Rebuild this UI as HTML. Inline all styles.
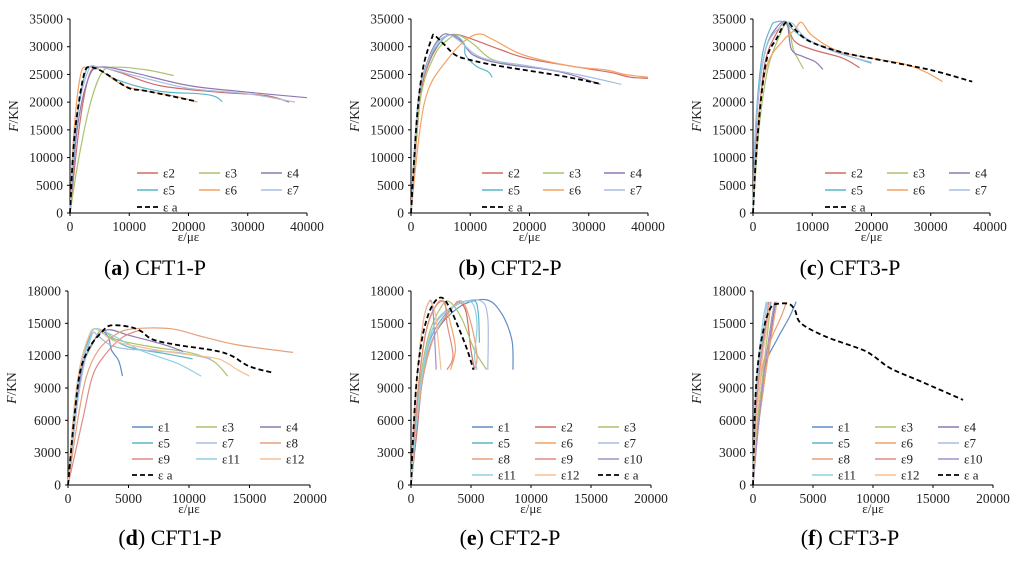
<!DOCTYPE html>
<html><head><meta charset="utf-8"><style>
html,body{margin:0;padding:0;background:#fff;}
svg, svg text{font-family:"Liberation Serif","Times New Roman",serif;}
</style></head>
<body>
<svg id="fig" width="1024" height="559" viewBox="0 0 1024 559" xmlns="http://www.w3.org/2000/svg" font-family="Liberation Serif, serif">
<rect width="1024" height="559" fill="#fff"/>
</svg>
<script>
// ---- data: panel (a) CFT1-P top ----
const aNames = ["ε2","ε3","ε4","ε5","ε6","ε7","ε a"];
const aSeries = [
 [[0,0],[1500,15000],[3000,24000],[4500,26300],[8000,25500],[15000,23000],[25000,21800],[33000,21200],[37000,20000]],
 [[0,0],[1500,10000],[3500,20000],[5500,25500],[8000,26300],[13000,25800],[17500,24800]],
 [[0,0],[1200,15000],[3000,24000],[5000,26300],[10000,25500],[20000,23000],[30000,21800],[40000,20800]],
 [[0,0],[1000,15000],[2500,25000],[4000,26300],[8000,24000],[15000,22000],[22000,21500],[24500,21000],[25700,20100]],
 [[0,0],[700,15000],[1800,25000],[3000,26300],[5000,25800],[9000,23000],[13000,22000],[18000,21000],[21500,20000]],
 [[0,0],[1000,16000],[3000,25500],[5000,26300],[12000,24500],[20000,22500],[30000,21500],[38000,20000]],
 [[0,0],[600,12000],[1500,20000],[2500,25500],[3400,26300],[5000,25800],[7000,24500],[10000,22500],[13000,22000],[21000,20200]]
];
// ---- panel (b) CFT2-P top ----
const bNames = ["ε2","ε3","ε4","ε5","ε6","ε7","ε a"];
const bSeries = [
 [[0,0],[1500,20000],[3000,27000],[5500,31500],[7500,32200],[10000,31500],[15000,29500],[20000,27800],[30000,26000],[34000,25300],[37000,24500],[40000,24300]],
 [[0,0],[1500,20000],[4000,28500],[6500,31500],[8000,32100],[10500,30500],[13500,27800],[18000,26500]],
 [[0,0],[1200,20000],[3000,28000],[5000,31800],[6500,32200],[8500,31000],[10500,28500],[15000,27000],[25000,25500],[32000,23200]],
 [[0,0],[1200,20000],[3000,27500],[5500,31500],[7500,32000],[9000,30500],[9200,28500],[11000,26500],[13000,25500],[13700,24500]],
 [[0,0],[1500,15000],[3000,22500],[6000,27500],[9000,31000],[11500,32300],[14000,31200],[19000,28500],[27000,26500],[33000,25800],[36000,25000],[40000,24500]],
 [[0,0],[1200,20000],[3500,29000],[6000,32000],[8000,31200],[12000,28000],[20000,26500],[28000,25000],[35500,23200]],
 [[0,0],[1000,17000],[2000,26000],[3500,31500],[4000,32000],[5500,30500],[7500,28500],[10000,27600],[15000,26500],[25000,24800],[32000,23300]]
];
// ---- panel (c) CFT3-P top ----
const cNames = ["ε2","ε3","ε4","ε5","ε6","ε7","ε a"];
const cSeries = [
 [[0,0],[800,15000],[2000,27000],[4000,32500],[5500,34300],[7000,31000],[10000,29500],[15000,28000],[18000,26200]],
 [[0,0],[1000,15000],[2500,26000],[4500,32000],[5800,34200],[6800,29500],[7500,28000],[8500,26000]],
 [[0,0],[700,18000],[2000,29000],[4000,33500],[5700,34300],[6500,29500],[8500,28200],[10500,27300],[11800,25900]],
 [[0,0],[400,15000],[1500,28000],[3000,33500],[4000,34500],[5500,34300],[8000,32000],[13000,29500],[20000,27000]],
 [[0,0],[1000,18000],[2500,27000],[5000,31000],[7000,33000],[8200,34400],[10000,32000],[15000,29000],[25000,27000],[29000,25500],[32000,23700]],
 [[0,0],[500,16000],[2000,29000],[4500,33500],[6500,34300],[9000,31500],[14000,29000],[20000,27200]],
 [[0,0],[500,10000],[1500,22000],[2500,28500],[4000,31500],[5600,34400],[7000,33200],[9500,31000],[15000,29000],[22000,27500],[30000,25800],[37000,23700]]
];
// ---- panel (d) CFT1-P bottom ----
const dNames = ["ε1","ε3","ε4","ε5","ε7","ε8","ε9","ε11","ε12","ε a"];
const dSeries = [
 [[0,0],[500,6000],[1000,11000],[1800,14000],[2300,14500],[3000,14200],[3400,13500],[3600,12500],[4200,11500],[4500,10100]],
 [[0,0],[700,7000],[1200,11000],[2000,13000],[2800,14400],[4000,13500],[7000,12800],[10000,12300],[12000,11500],[13200,10100]],
 [[0,0],[700,7000],[1200,11000],[2200,13500],[3300,14400],[5000,13900],[8000,13000],[9500,12400]],
 [[0,0],[500,7000],[1000,11000],[1700,13500],[2200,14500],[3000,14000],[5000,12800],[8000,12200],[10300,11700]],
 [[0,0],[700,7000],[1300,11000],[2000,14000],[2500,13800],[3500,13000],[5000,12600],[9000,12300],[11800,11700]],
 [[0,0],[800,6000],[1500,10000],[2500,12500],[4000,14000],[5500,14500],[8500,14500],[11000,13800],[14000,13000],[18600,12300]],
 [[0,0],[1200,6000],[2000,10000],[3000,12000],[4500,13700],[6000,14400]],
 [[0,0],[600,7000],[1100,11000],[1800,13500],[2200,14500],[3500,14000],[6000,12500],[9000,11300],[11000,10100]],
 [[0,0],[500,7000],[1000,11000],[1800,14000],[2500,14400],[4000,13300],[8000,12400],[12000,11800],[13000,11400],[14000,10700],[15000,10100]],
 [[0,0],[500,6000],[1000,10500],[1800,12800],[2800,14200],[3500,14800],[5000,14700],[6000,14300],[7000,13500],[9000,13000],[12000,12500],[13500,12000],[15000,11000],[17000,10400]]
];
// ---- panel (e) CFT2-P bottom ----
const eNames = ["ε1","ε2","ε3","ε5","ε6","ε7","ε8","ε9","ε10","ε11","ε12","ε a"];
const eSeries = [
 [[0,0],[400,5000],[1000,10000],[2000,14000],[4000,16500],[6200,17200],[7500,16000],[8400,13500],[8500,10700]],
 [[0,0],[500,5000],[1000,10000],[2000,14000],[3500,16500],[4000,17000],[4600,16000],[5000,12500],[5300,10700]],
 [[0,0],[300,5000],[800,10000],[1500,14000],[2500,16500],[3200,17000],[4200,15500],[5300,12500],[6300,10700]],
 [[0,0],[400,5000],[900,10000],[1800,14000],[3500,16500],[5200,17100],[5600,16000],[5700,13200]],
 [[0,0],[300,5000],[700,10000],[1200,14000],[2000,16500],[2700,17000],[3400,14500],[3700,12500],[3300,10700]],
 [[0,0],[400,5000],[1000,10000],[2000,15000],[4000,16800],[5800,17100],[6400,15500],[6400,10700]],
 [[0,0],[400,5000],[1000,10000],[2000,14000],[3500,16500],[4300,17000],[5000,15000],[5500,12000],[5300,10700]],
 [[0,0],[300,5000],[700,10000],[1300,14500],[2000,16500],[2800,17000],[3000,15000],[3500,12000],[3000,10700]],
 [[0,0],[200,5000],[500,10000],[1000,15000],[1500,17000],[1800,16500],[2000,13000],[2100,10700]],
 [[0,0],[400,5000],[900,10000],[1800,14500],[3500,16500],[5000,17000],[5500,15000],[5300,12000],[5500,10700]],
 [[0,0],[200,5000],[500,10000],[1000,15000],[1500,17000],[2000,16000],[2300,13000],[2500,10700]],
 [[0,0],[200,5000],[500,10000],[1000,14000],[1700,16500],[2500,17400],[3200,16500],[4000,14500],[4700,12500],[5200,10700]]
];
// ---- panel (f) CFT3-P bottom ----
const fNames = ["ε1","ε3","ε4","ε5","ε6","ε7","ε8","ε9","ε10","ε11","ε12","ε a"];
const fSeries = [
 [[0,0],[400,6000],[1000,11000],[2000,13500],[3000,15500],[3600,17000]],
 [[0,0],[300,5000],[800,10000],[1300,15000],[1500,17000]],
 [[0,0],[400,5000],[1000,10000],[1600,15000],[1900,17000]],
 [[0,0],[200,6000],[500,11000],[1000,14500],[1500,17000]],
 [[0,0],[400,5000],[1000,10000],[1700,15000],[2000,17000]],
 [[0,0],[200,6000],[500,11000],[1000,15500],[1200,17000]],
 [[0,0],[300,6000],[800,11000],[1500,13500],[2300,15500],[2800,17000]],
 [[0,0],[200,6000],[600,11000],[1100,15000],[1300,17000]],
 [[0,0],[500,6000],[1000,11000],[1500,15000],[1800,17000]],
 [[0,0],[100,6000],[400,11000],[800,15000],[1100,17000]],
 [[0,0],[300,6000],[700,11000],[1200,15000],[1400,17000]],
 [[0,0],[200,8000],[500,12000],[1000,15000],[1500,16500],[2000,16800],[3000,16800],[3500,16200],[4000,15000],[6000,13800],[9000,12600],[10000,12000],[11500,10800],[14000,9600],[17500,7900]]
];
const topYTicks = [0,5000,10000,15000,20000,25000,30000,35000];
const topXTicks = [0,10000,20000,30000,40000];
const botYTicks = [0,3000,6000,9000,12000,15000,18000];
const botXTicks = [0,5000,10000,15000,20000];

// ---- styles (not data) ----
const colorMap = {"ε1":"#5f8dc6","ε2":"#cf6d69","ε3":"#a9c46f","ε4":"#9079b3","ε5":"#5cb6cb","ε6":"#f5a261","ε7":"#a8bde0","ε8":"#e6a07a","ε9":"#e08a86","ε10":"#a58fc6","ε11":"#8fd0e2","ε12":"#f7bf92","ε a":"#000"};
const panels = [
 {id:"a",names:aNames,series:aSeries,x0:70,x1:307,y0:213,y1:19,xmax:40000,ymax:35000,xt:topXTicks,yt:topYTicks,cap:["a"," CFT1-P"],cx:155,cy:275,lx:137,cw:62,ly:173,rh:17},
 {id:"b",names:bNames,series:bSeries,x0:411,x1:648,y0:213,y1:19,xmax:40000,ymax:35000,xt:topXTicks,yt:topYTicks,cap:["b"," CFT2-P"],cx:510,cy:275,lx:482,cw:61,ly:173,rh:17},
 {id:"c",names:cNames,series:cSeries,x0:753,x1:990,y0:213,y1:19,xmax:40000,ymax:35000,xt:topXTicks,yt:topYTicks,cap:["c"," CFT3-P"],cx:850,cy:275,lx:825,cw:62,ly:173,rh:17},
 {id:"d",names:dNames,series:dSeries,x0:68,x1:310,y0:485,y1:291,xmax:20000,ymax:18000,xt:botXTicks,yt:botYTicks,cap:["d"," CFT1-P"],cx:170,cy:545,lx:132,cw:64,ly:427,rh:16},
 {id:"e",names:eNames,series:eSeries,x0:411,x1:651,y0:485,y1:291,xmax:20000,ymax:18000,xt:botXTicks,yt:botYTicks,cap:["e"," CFT2-P"],cx:510,cy:545,lx:472,cw:63,ly:427,rh:16},
 {id:"f",names:fNames,series:fSeries,x0:753,x1:993,y0:485,y1:291,xmax:20000,ymax:18000,xt:botXTicks,yt:botYTicks,cap:["f"," CFT3-P"],cx:850,cy:545,lx:812,cw:63,ly:427,rh:16}
];
const NS = "http://www.w3.org/2000/svg";
const svg = document.getElementById("fig");
const FONT = '"Liberation Serif", serif';
function mk(tag, attrs, parent, text){
  const el = document.createElementNS(NS, tag);
  for (const k in attrs) el.setAttribute(k, attrs[k]);
  if (tag === "text") el.style.fontFamily = FONT;
  if (text !== undefined) el.textContent = text;
  parent.appendChild(el);
  return el;
}
function smooth(P){
  let d = "M"+P[0][0].toFixed(1)+","+P[0][1].toFixed(1);
  for (let i=0;i<P.length-1;i++){
    const p0=P[Math.max(0,i-1)], p1=P[i], p2=P[i+1], p3=P[Math.min(P.length-1,i+2)];
    const c1=[p1[0]+(p2[0]-p0[0])/6, p1[1]+(p2[1]-p0[1])/6];
    const c2=[p2[0]-(p3[0]-p1[0])/6, p2[1]-(p3[1]-p1[1])/6];
    d += " C"+c1[0].toFixed(1)+","+c1[1].toFixed(1)+" "+c2[0].toFixed(1)+","+c2[1].toFixed(1)+" "+p2[0].toFixed(1)+","+p2[1].toFixed(1);
  }
  return d;
}
panels.forEach(p=>{
  const g = mk("g",{},svg);
  
  
  const sx = v => p.x0 + v/p.xmax*(p.x1-p.x0);
  const sy = v => p.y0 - v/p.ymax*(p.y0-p.y1);
  const ya = mk("line",{x1:p.x0,y1:p.y0,x2:p.x0,y2:p.y1,stroke:"#000","stroke-width":1},g);
  
  
  const xa = mk("line",{x1:p.x0,y1:p.y0,x2:p.x1,y2:p.y0,stroke:"#000","stroke-width":1},g);
  
  
  p.yt.forEach(v=>{
    mk("line",{x1:p.x0-3,y1:sy(v),x2:p.x0,y2:sy(v),stroke:"#000"},g);
    const t = mk("text",{x:p.x0-7,y:sy(v)+4.5,"text-anchor":"end","font-size":13.5,fill:"#222"},g,String(v));
    
    
  });
  p.xt.forEach(v=>{
    mk("line",{x1:sx(v),y1:p.y0,x2:sx(v),y2:p.y0+3,stroke:"#000"},g);
    const t = mk("text",{x:sx(v),y:p.y0+18,"text-anchor":"middle","font-size":13.5,fill:"#222"},g,String(v));
    
    
  });
  const xt = mk("text",{x:(p.x0+p.x1)/2,y:p.y0+28,"text-anchor":"middle","font-size":13,fill:"#222"},g,"ε/με");
  
  
  const ytx = p.x0-52, yty = (p.y0+p.y1)/2;
  const yt = mk("text",{x:ytx,y:yty,"text-anchor":"middle","font-size":13.5,fill:"#222",transform:`rotate(-90 ${ytx} ${yty})`},g);
  
  
  mk("tspan",{"font-style":"italic"},yt,"F");
  mk("tspan",{},yt,"/KN");
  p.series.forEach((pts,i)=>{
    const name = p.names[i];
    const dashed = name === "ε a";
    const P = pts.map(q=>[sx(q[0]), sy(q[1])]);
    const path = mk("path",{d:smooth(P),fill:"none",stroke:colorMap[name],"stroke-width":dashed?1.8:1.2,"stroke-linejoin":"round","stroke-dasharray":dashed?"5,3":"none"},g);
    
    
    const col = i % 3, row = Math.floor(i/3);
    const lx = p.lx + col*p.cw, ly = p.ly + row*p.rh;
    const ll = mk("line",{x1:lx,y1:ly,x2:lx+21,y2:ly,stroke:colorMap[name],"stroke-width":dashed?1.8:1.5,"stroke-dasharray":dashed?"5,3":"none"},g);
    
    
    const lt = mk("text",{x:lx+26,y:ly+4.5,"font-size":13,fill:"#222"},g,name);
    
    
  });
  const cap = mk("text",{x:p.cx,y:p.cy,"text-anchor":"middle","font-size":22,fill:"#000"},g);
  
  
  mk("tspan",{},cap,"(");
  mk("tspan",{"font-weight":"bold"},cap,p.cap[0]);
  mk("tspan",{},cap,")"+p.cap[1]);
});
</script>
</body></html>
